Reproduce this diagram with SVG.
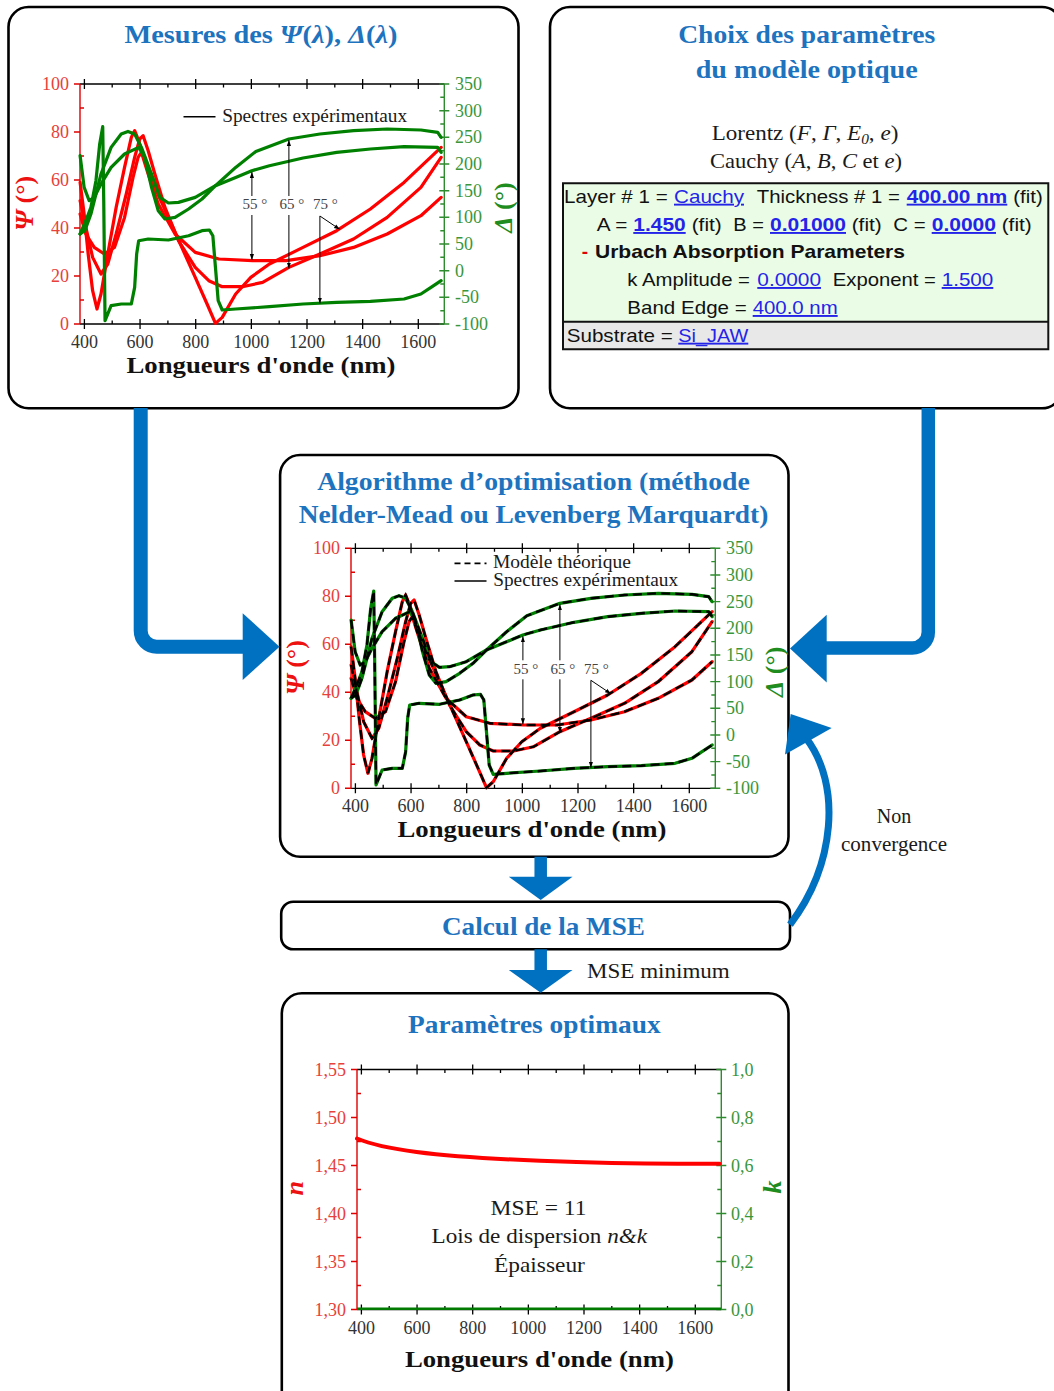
<svg xmlns="http://www.w3.org/2000/svg" xmlns:xlink="http://www.w3.org/1999/xlink" width="1054" height="1391" viewBox="0 0 1054 1391">
<defs>
<style>
.box{fill:#fff;stroke:#000;stroke-width:2.6}
.ttl{font-family:"Liberation Serif",serif;font-weight:bold;fill:#1E73BE;font-size:25px;text-anchor:middle}
.tk{font-family:"Liberation Serif",serif;font-size:18px}
.tr{fill:#E8403A;text-anchor:end}
.tg{fill:#3A963A}
.tx{fill:#333;text-anchor:middle}
.xl{font-family:"Liberation Serif",serif;font-weight:bold;font-size:23px;text-anchor:middle;fill:#111}
.ax{font-family:"Liberation Serif",serif;font-weight:bold;font-size:26px;text-anchor:middle}
.sr{font-family:"Liberation Serif",serif;fill:#1a1a1a}
.ui{font-family:"Liberation Sans",Arial,sans-serif;font-size:19px;fill:#111}
.lk{fill:#2424E8;text-decoration:underline}
.b{font-weight:bold}
.it{font-style:italic}
.ann{font-family:"Liberation Serif",serif;font-size:15px;fill:#444}
.conn{fill:none;stroke:#0070C0}
.ah{fill:#0070C0}
</style>
<marker id="ah" viewBox="0 0 10 10" refX="10" refY="5" markerWidth="6" markerHeight="6" orient="auto" markerUnits="userSpaceOnUse"><path d="M0 1.5L10 5L0 8.5z" fill="#000"/></marker>
<path id="RA" d="M79.3 181.7L83.3 213.3L87.3 253.3L91.7 290L96 308.3L100 293.3L106.7 253.3L115 206.7L123.3 166.7L130 136.7L133.3 130L137.3 140L143.3 160L153.3 186.7L166.7 216.7L180 246.7L193.3 276.7L205 303.3L213.3 322.7L220 316.7L233.3 293.3L248.3 276.7L266.7 263.3L300 246.7L333.3 230L366.7 208.3L400 181.7L436.7 146.7"/>
<path id="RB" d="M79.3 200L85 226.7L91.7 256.7L100 273.3L106.7 263.3L115 233.3L125 193.3L133.3 156.7L138.3 138.3L141.7 135L146.7 150L153.3 173.3L163.3 206.7L176.7 240L193.3 266.7L206.7 280L220 286L240 286L260 281.7L286 266.7L316.7 253.3L350 238.3L383.3 216.7L416.7 186.7L436.7 156.7"/>
<path id="RC" d="M79.3 213.3L85 233.3L93.3 246.7L103.3 253.3L113.3 246.7L123.3 216.7L131.7 176.7L136.7 156.7L140 151.7L146.7 173.3L156.7 203.3L173.3 233.3L193.3 251.7L216.7 258.3L250 260L283.3 260L316.7 255L350 246.7L383.3 233.3L416.7 215L436.7 196.7"/>
<path id="G75" d="M79.3 233.3L85 220L90 206.7L95 180L98.7 143.3L101.7 126L102.7 200L104 320L110 305L120 303.3L130 303.3L133.3 286.7L135.3 253.3L137.3 240L146.7 238.3L166.7 239.3L186.7 235L200 230L207.3 229.3L210.7 235L213.3 266.7L216 300L220 309.3L233.3 308.3L266.7 306L300 303.3L333.3 301.7L366.7 300.7L400 298.3L416.7 293.3L426.7 286.7L436.7 280"/>
<path id="G55" d="M79.3 233.3L84 230L90 213.3L100 173.3L110 146.7L120 133.3L126.7 130.7L133.3 133.3L140 146.7L150 173.3L158.3 196.7L166.7 202.3L176.7 201.7L193.3 196.7L213.3 185L233.3 176.7L249.3 170L266.7 165L300 157.3L333.3 151.7L366.7 148.3L400 146L433.3 146.7L436.7 151.7"/>
<path id="G65" d="M79.3 155L83.3 186.7L88.3 200L93.3 196.7L100 183.3L110 166.7L123.3 153.3L137.3 146.7L143.3 156.7L150 186.7L156.7 210L163.3 218.3L173.3 216.7L186.7 208.3L200 198.3L213.3 185L233.3 166.7L253.3 150.7L286 138.3L316.7 133.3L350 130L383.3 128.3L416.7 129.3L433.3 131.7L436.7 136.7"/>
<g id="xax" stroke="#000" stroke-width="1.3" fill="none">
<path d="M80 84H444.3M80 324H444.3"/>
<path d="M84.4 79V89M140.05 79V89M195.7 79V89M251.35 79V89M307 79V89M362.65 79V89M418.3 79V89M84.4 319V329M140.05 319V329M195.7 319V329M251.35 319V329M307 319V329M362.65 319V329M418.3 319V329"/>
<path d="M112.2 84V87.5M167.9 84V87.5M223.5 84V87.5M279.2 84V87.5M334.8 84V87.5M390.5 84V87.5M112.2 324V320.5M167.9 324V320.5M223.5 324V320.5M279.2 324V320.5M334.8 324V320.5M390.5 324V320.5"/>
</g>
<path id="lax" fill="none" stroke="#E00000" stroke-width="1.4" d="M80 84V324M74 84H80M74 132H80M74 180H80M74 228H80M74 276H80M74 324H80M80 108H84M80 156H84M80 204H84M80 252H84M80 300H84"/>
<path id="rax12" fill="none" stroke="#2E8B2E" stroke-width="1.4" d="M444.3 84V324M439.3 84H449.3M439.3 110.7H449.3M439.3 137.3H449.3M439.3 164H449.3M439.3 190.7H449.3M439.3 217.3H449.3M439.3 244H449.3M439.3 270.7H449.3M439.3 297.3H449.3M439.3 324H449.3M440.3 97.3H444.3M440.3 124H444.3M440.3 150.7H444.3M440.3 177.3H444.3M440.3 204H444.3M440.3 230.7H444.3M440.3 257.3H444.3M440.3 284H444.3M440.3 310.7H444.3"/>
<path id="rax3" fill="none" stroke="#2E8B2E" stroke-width="1.4" d="M444.3 84V324M439.3 84H449.3M439.3 132H449.3M439.3 180H449.3M439.3 228H449.3M439.3 276H449.3M439.3 324H449.3M440.3 108H444.3M440.3 156H444.3M440.3 204H444.3M440.3 252H444.3M440.3 300H444.3"/>
<g id="annot" fill="none" stroke="#000" stroke-width="1">
<path d="M251.9 196V172" marker-end="url(#ah)"/>
<path d="M251.9 215V260" marker-end="url(#ah)"/>
<path d="M288.9 196V140" marker-end="url(#ah)"/>
<path d="M288.9 215V268.5" marker-end="url(#ah)"/>
<path d="M319.9 216V303.5" marker-end="url(#ah)"/>
<path d="M319.9 216L340 229.5" marker-end="url(#ah)"/>
<path d="M183.5 116.7H215.5" stroke-width="1.6"/>
</g>
<g id="curves" fill="none" stroke-width="3.2" stroke-linejoin="round" stroke-linecap="round">
<g stroke="#FF0000"><use href="#RA"/><use href="#RB"/><use href="#RC"/></g>
<g stroke="#008000"><use href="#G55"/><use href="#G65"/><use href="#G75"/></g>
</g>
</defs>

<g id="node-mesures">
<rect class="box" x="8.5" y="7" width="510" height="401.3" rx="20"/>
<text class="ttl" x="261" y="43.3" textLength="273" lengthAdjust="spacingAndGlyphs">Mesures des <tspan class="it">Ψ</tspan>(<tspan class="it">λ</tspan>), <tspan class="it">Δ</tspan>(<tspan class="it">λ</tspan>)</text>
<use href="#xax"/><use href="#lax"/><use href="#rax12"/>
<use href="#curves" transform="matrix(1.0101 0 0 1 0 0.7)"/>
<use href="#annot"/>
<text class="sr" x="222.2" y="121.7" font-size="18" textLength="185" lengthAdjust="spacingAndGlyphs">Spectres expérimentaux</text>
<text class="ann" x="242.4" y="209.3">55 °</text><text class="ann" x="279.5" y="209.3">65 °</text><text class="ann" x="313" y="209.3">75 °</text>
<g class="tk tr"><text x="69" y="90">100</text><text x="69" y="138">80</text><text x="69" y="186">60</text><text x="69" y="234">40</text><text x="69" y="282">20</text><text x="69" y="330">0</text></g>
<g class="tk tg"><text x="455" y="90">350</text><text x="455" y="116.7">300</text><text x="455" y="143.3">250</text><text x="455" y="170">200</text><text x="455" y="196.7">150</text><text x="455" y="223.3">100</text><text x="455" y="250">50</text><text x="455" y="276.7">0</text><text x="455" y="303.3">-50</text><text x="455" y="330">-100</text></g>
<g class="tk tx"><text x="84.4" y="348">400</text><text x="140.05" y="348">600</text><text x="195.7" y="348">800</text><text x="251.35" y="348">1000</text><text x="307" y="348">1200</text><text x="362.65" y="348">1400</text><text x="418.3" y="348">1600</text></g>
<text class="ax" fill="#EE1111" transform="translate(32.6 203.3) rotate(-90)"><tspan class="it">Ψ</tspan> (°)</text>
<text class="ax" fill="#1E8C1E" transform="translate(512.4 207.5) rotate(-90)"><tspan class="it">Δ</tspan> (°)</text>
<text class="xl" x="261" y="373.3" textLength="269" lengthAdjust="spacingAndGlyphs">Longueurs d'onde (nm)</text>
</g>

<g id="node-choix">
<rect class="box" x="550" y="7" width="512" height="401.3" rx="20"/>
<text class="ttl" x="806.7" y="43.3" textLength="257" lengthAdjust="spacingAndGlyphs">Choix des paramètres</text>
<text class="ttl" x="806.7" y="78.3" textLength="222" lengthAdjust="spacingAndGlyphs">du modèle optique</text>
<text class="sr" x="805" y="140" font-size="21" text-anchor="middle" textLength="186.7" lengthAdjust="spacingAndGlyphs">Lorentz (<tspan class="it">F</tspan>, <tspan class="it">Γ</tspan>, <tspan class="it">E</tspan><tspan class="it" font-size="14" dy="4">0</tspan><tspan dy="-4">, </tspan><tspan class="it">e</tspan>)</text>
<text class="sr" x="806" y="168.3" font-size="21" text-anchor="middle" textLength="192" lengthAdjust="spacingAndGlyphs">Cauchy (<tspan class="it">A</tspan>, <tspan class="it">B</tspan>, <tspan class="it">C</tspan> et <tspan class="it">e</tspan>)</text>
<rect x="563" y="183.3" width="485.3" height="138.4" fill="#EAFCE6"/>
<rect x="563" y="321.7" width="485.3" height="27.6" fill="#E8E8E8"/>
<path d="M563 183.3H1048.3V349.3H563ZM563 321.7H1048.3" fill="none" stroke="#111" stroke-width="2"/>
<g class="ui">
<text x="564" y="202.7" textLength="103.7" lengthAdjust="spacingAndGlyphs">Layer # 1 =</text>
<text class="lk" x="674" y="202.7" textLength="70" lengthAdjust="spacingAndGlyphs">Cauchy</text>
<text x="756.7" y="202.7" textLength="143.3" lengthAdjust="spacingAndGlyphs">Thickness # 1 =</text>
<text class="lk b" x="906.7" y="202.7" textLength="100.6" lengthAdjust="spacingAndGlyphs">400.00 nm</text>
<text x="1013.3" y="202.7" textLength="29.4" lengthAdjust="spacingAndGlyphs">(fit)</text>
<text x="596.7" y="231" textLength="30.6" lengthAdjust="spacingAndGlyphs">A =</text>
<text class="lk b" x="633.3" y="231" textLength="52.4" lengthAdjust="spacingAndGlyphs">1.450</text>
<text x="691.7" y="231" textLength="30" lengthAdjust="spacingAndGlyphs">(fit)</text>
<text x="733.3" y="231" textLength="30.7" lengthAdjust="spacingAndGlyphs">B =</text>
<text class="lk b" x="770" y="231" textLength="76" lengthAdjust="spacingAndGlyphs">0.01000</text>
<text x="851.7" y="231" textLength="30" lengthAdjust="spacingAndGlyphs">(fit)</text>
<text x="893.3" y="231" textLength="32.4" lengthAdjust="spacingAndGlyphs">C =</text>
<text class="lk b" x="931.7" y="231" textLength="64.3" lengthAdjust="spacingAndGlyphs">0.0000</text>
<text x="1001.7" y="231" textLength="30" lengthAdjust="spacingAndGlyphs">(fit)</text>
<text class="b" x="581.7" y="258.3" fill="#E00000">-</text>
<text class="b" x="595" y="258.3" textLength="310" lengthAdjust="spacingAndGlyphs">Urbach Absorption Parameters</text>
<text x="627.3" y="286" textLength="122.7" lengthAdjust="spacingAndGlyphs">k Amplitude =</text>
<text class="lk" x="757.3" y="286" textLength="63.7" lengthAdjust="spacingAndGlyphs">0.0000</text>
<text x="832.7" y="286" textLength="103.3" lengthAdjust="spacingAndGlyphs">Exponent =</text>
<text class="lk" x="941.7" y="286" textLength="51.6" lengthAdjust="spacingAndGlyphs">1.500</text>
<text x="627.3" y="314" textLength="119.4" lengthAdjust="spacingAndGlyphs">Band Edge =</text>
<text class="lk" x="752.7" y="314" textLength="85" lengthAdjust="spacingAndGlyphs">400.0 nm</text>
<text x="566.7" y="341.7" textLength="106" lengthAdjust="spacingAndGlyphs">Substrate =</text>
<text class="lk" x="678.3" y="341.7" textLength="70" lengthAdjust="spacingAndGlyphs">Si_JAW</text>
</g>
</g>

<g id="node-algo">
<rect class="box" x="280.1" y="455" width="508.4" height="401.7" rx="20"/>
<text class="ttl" x="533.5" y="490" textLength="432.7" lengthAdjust="spacingAndGlyphs">Algorithme d’optimisation (méthode</text>
<text class="ttl" x="533.5" y="523.3" textLength="469.7" lengthAdjust="spacingAndGlyphs">Nelder-Mead ou Levenberg Marquardt)</text>
<g transform="translate(271 464.3)">
<use href="#xax"/><use href="#lax"/><use href="#rax12"/>
<use href="#curves" transform="matrix(1.0101 0 0 1 0 0.7)"/>
<g transform="matrix(1.0101 0 0 1 0 0.7)" fill="none" stroke="#000" stroke-width="2.4" stroke-dasharray="9 5">
<use href="#RA"/><use href="#RB"/><use href="#RC"/><use href="#G55"/><use href="#G65"/><use href="#G75"/>
</g>
<use href="#annot"/>
<path d="M183.5 99H215.5" fill="none" stroke="#000" stroke-width="1.8" stroke-dasharray="6 4"/>
</g>
<text class="sr" x="492.9" y="568.3" font-size="18" textLength="138" lengthAdjust="spacingAndGlyphs">Modèle théorique</text>
<text class="sr" x="493.2" y="586" font-size="18" textLength="185" lengthAdjust="spacingAndGlyphs">Spectres expérimentaux</text>
<text class="ann" x="513.4" y="673.6">55 °</text><text class="ann" x="550.5" y="673.6">65 °</text><text class="ann" x="584" y="673.6">75 °</text>
<g class="tk tr"><text x="340" y="554.3">100</text><text x="340" y="602.3">80</text><text x="340" y="650.3">60</text><text x="340" y="698.3">40</text><text x="340" y="746.3">20</text><text x="340" y="794.3">0</text></g>
<g class="tk tg"><text x="726" y="554.3">350</text><text x="726" y="581">300</text><text x="726" y="607.6">250</text><text x="726" y="634.3">200</text><text x="726" y="661">150</text><text x="726" y="687.6">100</text><text x="726" y="714.3">50</text><text x="726" y="741">0</text><text x="726" y="767.6">-50</text><text x="726" y="794.3">-100</text></g>
<g class="tk tx"><text x="355.4" y="812.3">400</text><text x="411.05" y="812.3">600</text><text x="466.7" y="812.3">800</text><text x="522.35" y="812.3">1000</text><text x="578" y="812.3">1200</text><text x="633.65" y="812.3">1400</text><text x="689.3" y="812.3">1600</text></g>
<text class="ax" fill="#EE1111" transform="translate(303.6 667.6) rotate(-90)"><tspan class="it">Ψ</tspan> (°)</text>
<text class="ax" fill="#1E8C1E" transform="translate(783.4 671.8) rotate(-90)"><tspan class="it">Δ</tspan> (°)</text>
<text class="xl" x="532" y="837.3" textLength="269" lengthAdjust="spacingAndGlyphs">Longueurs d'onde (nm)</text>
</g>

<g id="node-mse">
<rect x="281.2" y="901.7" width="508.8" height="47.6" rx="12" fill="#fff" stroke="#000" stroke-width="2.6"/>
<text class="ttl" x="543.5" y="935" textLength="203" lengthAdjust="spacingAndGlyphs">Calcul de la MSE</text>
</g>

<g id="node-params">
<rect class="box" x="281.8" y="993.3" width="506.7" height="420" rx="20"/>
<text class="ttl" x="534.3" y="1033.3" textLength="252.6" lengthAdjust="spacingAndGlyphs">Paramètres optimaux</text>
<g transform="translate(277 985.5)">
<use href="#xax"/><use href="#lax"/><use href="#rax3"/>
</g>
<path d="M357 1308.8H721" fill="none" stroke="#007A00" stroke-width="2.4"/>
<path d="M357 1138.5C382 1149 430 1156.5 540 1160.8S680 1163.3 719.5 1163.7" fill="none" stroke="#FF0000" stroke-width="4" stroke-linecap="round"/>
<g class="tk tr"><text x="346" y="1075.5">1,55</text><text x="346" y="1123.5">1,50</text><text x="346" y="1171.5">1,45</text><text x="346" y="1219.5">1,40</text><text x="346" y="1267.5">1,35</text><text x="346" y="1315.5">1,30</text></g>
<g class="tk tg"><text x="731" y="1075.5">1,0</text><text x="731" y="1123.5">0,8</text><text x="731" y="1171.5">0,6</text><text x="731" y="1219.5">0,4</text><text x="731" y="1267.5">0,2</text><text x="731" y="1315.5">0,0</text></g>
<g class="tk tx"><text x="361.4" y="1333.5">400</text><text x="417.05" y="1333.5">600</text><text x="472.7" y="1333.5">800</text><text x="528.35" y="1333.5">1000</text><text x="584" y="1333.5">1200</text><text x="639.65" y="1333.5">1400</text><text x="695.3" y="1333.5">1600</text></g>
<text class="ax it" fill="#EE1111" transform="translate(303 1188.3) rotate(-90)">n</text>
<text class="ax it" fill="#1E8C1E" transform="translate(781 1187) rotate(-90)">k</text>
<text class="sr" x="538.5" y="1215" font-size="21" text-anchor="middle" textLength="96" lengthAdjust="spacingAndGlyphs">MSE = 11</text>
<text class="sr" x="539.3" y="1243.3" font-size="21" text-anchor="middle" textLength="215.4" lengthAdjust="spacingAndGlyphs">Lois de dispersion <tspan class="it">n&amp;k</tspan></text>
<text class="sr" x="539.4" y="1271.7" font-size="21" text-anchor="middle" textLength="91" lengthAdjust="spacingAndGlyphs">Épaisseur</text>
<text class="xl" x="539.4" y="1366.7" textLength="269" lengthAdjust="spacingAndGlyphs">Longueurs d'onde (nm)</text>
</g>

<g id="connectors">
<path class="conn" stroke-width="14" d="M140.7 408V630.7A16 16 0 0 0 156.7 646.7H244"/>
<polygon class="ah" points="242.7,613.3 279.5,646.7 242.7,680"/>
<path class="conn" stroke-width="13.5" d="M928.3 408V632A16 16 0 0 1 912.3 648H826"/>
<polygon class="ah" points="826.7,614.7 790,648.5 826.7,682.5"/>
<path class="conn" stroke-width="12.5" d="M540.7 856.7V878"/>
<polygon class="ah" points="508.8,876.7 572.5,876.7 540.7,900"/>
<path class="conn" stroke-width="12.5" d="M540.7 949.3V971"/>
<polygon class="ah" points="508.8,970 572.5,970 540.7,992.7"/>
<path class="conn" stroke-width="7" d="M790 924.6C835 865 842 785 806 738"/>
<polygon class="ah" points="790.7,714 831.7,728 785,754.4"/>
<text class="sr" x="894" y="822.8" font-size="20" text-anchor="middle">Non</text>
<text class="sr" x="894" y="851" font-size="20" text-anchor="middle" textLength="106" lengthAdjust="spacingAndGlyphs">convergence</text>
<text class="sr" x="587" y="978.3" font-size="20" textLength="142.8" lengthAdjust="spacingAndGlyphs">MSE minimum</text>
</g>
</svg>
